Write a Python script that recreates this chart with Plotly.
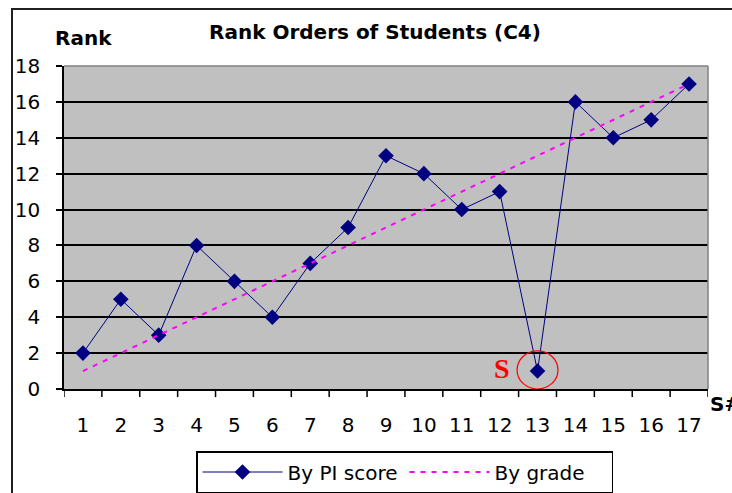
import plotly.graph_objects as go

students = list(range(1, 18))
pi_rank = [2, 5, 3, 8, 6, 4, 7, 9, 13, 12, 10, 11, 1, 16, 14, 15, 17]
grade_rank = [1, 2, 3, 4, 5, 6, 7, 8, 9, 10, 11, 12, 13, 14, 15, 16, 17]
y_ticks = [0, 2, 4, 6, 8, 10, 12, 14, 16, 18]

FONT = "DejaVu Sans, Arial, sans-serif"

fig = go.Figure()
fig.add_trace(go.Scatter(
    x=students, y=pi_rank, name="By PI score", mode="lines+markers",
    line=dict(color="#000080", width=1),
    marker=dict(symbol="diamond", size=12, color="#000080"),
))
fig.add_trace(go.Scatter(
    x=students, y=grade_rank, name="By grade", mode="lines",
    line=dict(color="#FF00FF", width=2, dash="5px,6px"),
))

W, H = 732, 493
L, R, T, B = 64, 24, 66, 104
PW, PH = W - L - R, H - T - B


def px_x(x):
    return (x - L) / PW


def px_y(y):
    return (H - B - y) / PH


fig.update_layout(
    width=W, height=H,
    margin=dict(l=L, r=R, t=T, b=B, autoexpand=False),
    paper_bgcolor="white", plot_bgcolor="#C0C0C0",
    font=dict(family=FONT, size=20, color="black"),
    showlegend=True,
    legend=dict(
        orientation="h", x=px_x(196), y=px_y(451), xanchor="left", yanchor="top",
        bordercolor="black", borderwidth=1.5, bgcolor="white",
        font=dict(family=FONT, size=20), itemwidth=80,
        entrywidth=112, entrywidthmode="pixels",
    ),
    xaxis=dict(
        range=[0.5, 17.5], tickmode="array", tickvals=students,
        ticktext=[str(s) for s in students],
        showgrid=False, zeroline=False,
        showline=True, linecolor="black", linewidth=1.5,
        ticks="", ticklabelstandoff=17, automargin=False,
        tickfont=dict(family=FONT, size=20),
    ),
    yaxis=dict(
        range=[0, 18], tickmode="array", tickvals=y_ticks,
        showgrid=True, gridcolor="black", gridwidth=1.5, zeroline=False,
        showline=True, linecolor="black", linewidth=1.5,
        ticks="outside", ticklen=6, tickcolor="black", tickwidth=1.5,
        ticklabelstandoff=12, automargin=False,
        tickfont=dict(family=FONT, size=20),
    ),
)

# category separator ticks on x axis
for k in range(18):
    fig.add_shape(type="line", xref="x", yref="paper",
                  x0=0.5 + k, x1=0.5 + k, y0=0, y1=-0.025,
                  line=dict(color="black", width=1.5))

# plot area gray border (top/right)
fig.add_shape(type="line", xref="paper", yref="paper", x0=0, x1=1, y0=1, y1=1,
              line=dict(color="#808080", width=1.5))
fig.add_shape(type="line", xref="paper", yref="paper", x0=1, x1=1, y0=0, y1=1,
              line=dict(color="#808080", width=1.5))

# outer chart border
fig.add_shape(type="rect", xref="paper", yref="paper",
              x0=px_x(12), x1=px_x(760), y0=px_y(520), y1=px_y(9),
              line=dict(color="#202020", width=2))

# red circle around student 13
fig.add_shape(type="circle", xref="x", yref="y",
              x0=12.46, x1=13.54, y0=0.0, y1=2.12,
              line=dict(color="red", width=1.2))

fig.add_annotation(x=12.06, y=1.15, xref="x", yref="y", text="<b>S</b>",
                   xanchor="center", yanchor="middle", showarrow=False,
                   font=dict(family="Liberation Serif, Times New Roman, serif",
                             size=28, color="red"))

fig.add_annotation(x=px_x(375), y=px_y(32), xref="paper", yref="paper",
                   text="<b>Rank Orders of Students (C4)</b>",
                   xanchor="center", yanchor="middle", showarrow=False,
                   font=dict(family=FONT, size=20))
fig.add_annotation(x=px_x(83), y=px_y(38), xref="paper", yref="paper",
                   text="<b>Rank</b>", xanchor="center", yanchor="middle",
                   showarrow=False, font=dict(family=FONT, size=20))
fig.add_annotation(x=px_x(708), y=px_y(404), xref="paper", yref="paper",
                   text="<b>S#</b>", xanchor="left", yanchor="middle",
                   showarrow=False, font=dict(family=FONT, size=20))

fig.write_html("out.html", config={"displayModeBar": False},
               post_script="document.body.style.margin='0';document.body.style.overflow='hidden';")
